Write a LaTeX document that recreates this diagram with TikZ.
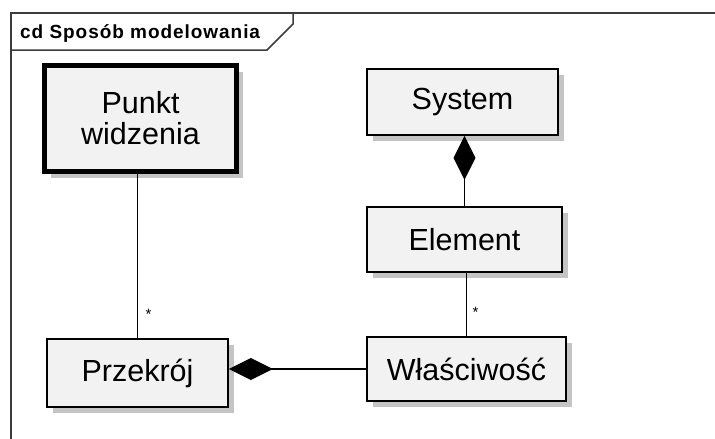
\documentclass[tikz,border=0pt]{standalone}
\usepackage{fontspec}
\setmainfont{Liberation Sans}
\usetikzlibrary{arrows.meta,positioning,calc,shadows}
\definecolor{Ink}{HTML}{000000}
\definecolor{Frame}{HTML}{3C3C3C}
\definecolor{Pale}{HTML}{F2F2F2}
\definecolor{Shade}{HTML}{C4C4C4}
\tikzset{
  cls/.style={draw=Ink,line width=1.6pt,fill=Pale,align=center,inner sep=0pt,
    font=\fontsize{30.5}{31}\selectfont,
    drop shadow={shadow xshift=6pt,shadow yshift=-6pt,fill=Shade,opacity=1}},
  hi/.style={line width=5pt},
  comp/.style={{Diamond[length=44pt,width=22pt,fill=Ink]}-,line width=1.5pt,draw=Ink},
  assoc/.style={line width=1.5pt,draw=Ink},
  mult/.style={font=\fontsize{15}{15}\selectfont,inner sep=0pt},
}
\begin{document}
\begin{tikzpicture}[x=1pt,y=-1pt,line join=miter]
\useasboundingbox (0,0) rectangle (715,439);
\draw[Frame,line width=1.5pt] (11,439) -- (11,13) -- (715,13);
\draw[Frame,line width=1.5pt] (11,50) -- (267,50) -- (293,24) -- (293,13);
\node[anchor=base west,inner sep=0pt,font=\bfseries\fontsize{19}{19}\selectfont\addfontfeatures{LetterSpace=5}] (title) at (20,38) {cd Sposób modelowania};
\node[cls,hi,minimum width=192,minimum height=106] (pw) at (140.5,118.5) {Punkt\\widzenia};
\node[cls,minimum width=191,minimum height=66] (sys) at (462.5,102) {System};
\node[cls,minimum width=195,minimum height=65] (el) at (464.5,239.5) {Element};
\node[cls,minimum width=181,minimum height=68] (prz) at (137.5,373) {Przekrój};
\node[cls,minimum width=199,minimum height=64] (wl) at (466.5,369) {Właściwość};
\draw[assoc] (prz.north) -- (prz.north |- pw.south);
\draw[comp] (el.north |- sys.south) -- (el.north);
\draw[assoc] (wl.north) -- (wl.north |- el.south);
\draw[comp] (prz.east |- wl.west) -- (wl.west);
\node[mult] (m1) at ($(prz.north)+(11,-24)$) {*};
\node[mult] (m2) at ($(wl.north)+(9,-24)$) {*};
\end{tikzpicture}
\end{document}
